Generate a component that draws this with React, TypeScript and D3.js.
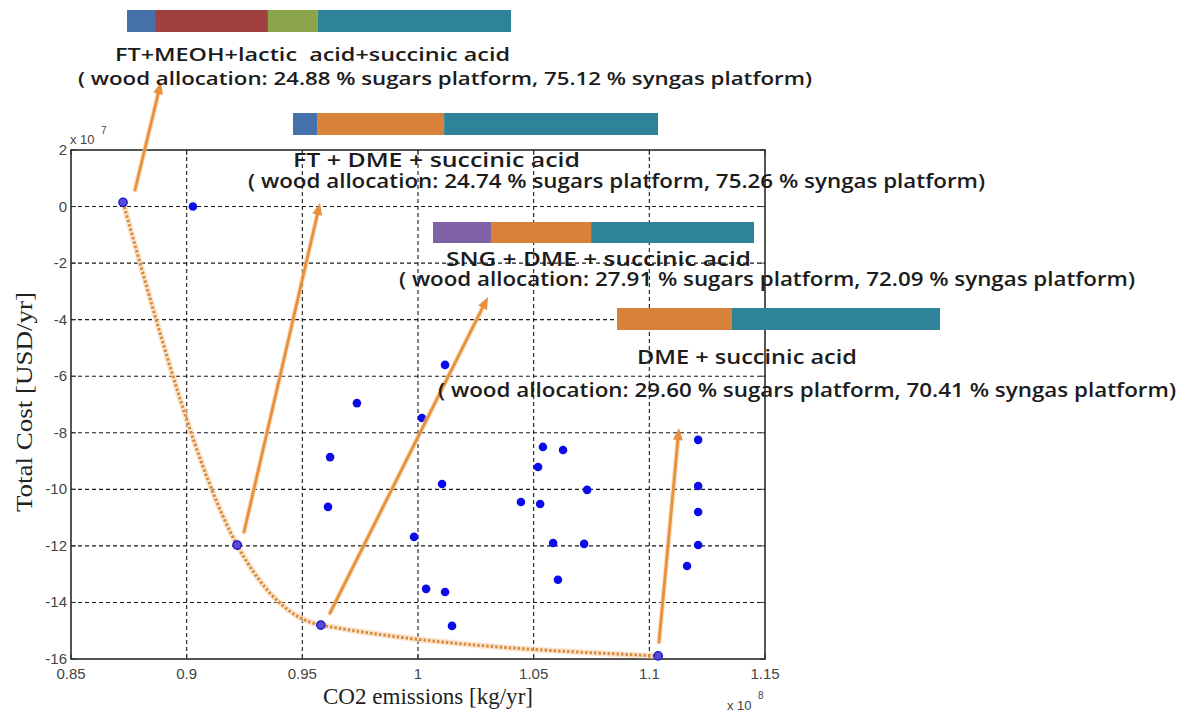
import React from "react";
import * as d3 from "d3";

// ---------- data ----------
const xTickValues = [0.85, 0.9, 0.95, 1.0, 1.05, 1.1, 1.15];
const xTickLabels = ["0.85", "0.9", "0.95", "1", "1.05", "1.1", "1.15"];
const yTickValues = [2, 0, -2, -4, -6, -8, -10, -12, -14, -16];
const yTickLabels = ["2", "0", "-2", "-4", "-6", "-8", "-10", "-12", "-14", "-16"];

// Pareto-optimal configurations (x: CO2 emissions x1e8 kg/yr, y: total cost x1e7 USD/yr)
const paretoCO2 = [0.8725, 0.9218, 0.958, 1.1038];
const paretoCost = [0.15, -11.97, -14.8, -15.89];

// other evaluated configurations
const otherCO2 = [
  0.9027, 0.9736, 0.962, 0.9611, 1.0117, 1.0017, 1.054, 1.0627, 1.0519, 1.0104,
  1.0731, 1.0445, 1.0528, 0.9983, 1.0584, 1.0718, 1.0605, 1.0035, 1.0117, 1.0147,
  1.1211, 1.1211, 1.1211, 1.1211, 1.1163,
];
const otherCost = [
  0.0, -6.95, -8.86, -10.62, -5.6, -7.48, -8.5, -8.61, -9.21, -9.81,
  -10.02, -10.45, -10.52, -11.68, -11.9, -11.93, -13.2, -13.52, -13.63, -14.83,
  -8.25, -9.88, -10.8, -11.97, -12.71,
];

const labelTitles = [
  "FT+MEOH+lactic  acid+succinic acid",
  "FT + DME + succinic acid",
  "SNG + DME + succinic acid",
  "DME + succinic acid",
];
const labelDetails = [
  "( wood allocation: 24.88 % sugars platform, 75.12 % syngas platform)",
  "( wood allocation: 24.74 % sugars platform, 75.26 % syngas platform)",
  "( wood allocation: 27.91 % sugars platform, 72.09 % syngas platform)",
  "( wood allocation: 29.60 % sugars platform, 70.41 % syngas platform)",
];
const barShares = [
  [7.3, 29.4, 13.0, 50.3],
  [6.6, 34.8, 58.6],
  [18.1, 31.2, 50.8],
  [35.6, 64.4],
];
const C_BLUE = "#4571aa";
const C_RED = "#a0403f";
const C_GREEN = "#8ba54b";
const C_TEAL = "#2f8399";
const C_ORANGE = "#d7813a";
const C_PURPLE = "#7f62a6";
const barColors = [
  [C_BLUE, C_RED, C_GREEN, C_TEAL],
  [C_BLUE, C_ORANGE, C_TEAL],
  [C_PURPLE, C_ORANGE, C_TEAL],
  [C_ORANGE, C_TEAL],
];

// ---------- layout ----------
const W = 1189;
const H = 713;
const PL = 71, PR = 765, PT = 150, PB = 659;

const labelLayout = [
  { bx0: 127, bx1: 511, by0: 10, by1: 32, t1x0: 115, t1x1: 510, t1y: 61, t2x0: 78, t2x1: 812, t2y: 85, fs: 18 },
  { bx0: 293, bx1: 658, by0: 113, by1: 135, t1x0: 293, t1x1: 580, t1y: 167, t2x0: 248, t2x1: 985, t2y: 188, fs: 19 },
  { bx0: 433, bx1: 754, by0: 222, by1: 243, t1x0: 446, t1x1: 751, t1y: 266, t2x0: 399, t2x1: 1135, t2y: 286, fs: 19 },
  { bx0: 617, bx1: 940, by0: 308, by1: 330, t1x0: 637, t1x1: 857, t1y: 364, t2x0: 438, t2x1: 1176, t2y: 397, fs: 19 },
];

const arrows = [
  { x0: 135, y0: 190, x1: 161, y1: 82 },
  { x0: 244, y0: 532, x1: 320, y1: 203 },
  { x0: 330, y0: 613, x1: 488, y1: 297 },
  { x0: 659, y0: 642, x1: 679, y1: 428 },
];

const ARROW = "#e8913c";

function Arrow({ a }: { a: { x0: number; y0: number; x1: number; y1: number } }) {
  const ang = Math.atan2(a.y1 - a.y0, a.x1 - a.x0);
  const len = 12, half = 5;
  const bx = a.x1 - len * Math.cos(ang);
  const by = a.y1 - len * Math.sin(ang);
  const px = -Math.sin(ang), py = Math.cos(ang);
  const head = `M${a.x1},${a.y1} L${bx + px * half},${by + py * half} L${bx - px * half},${by - py * half} Z`;
  return (
    <g>
      <line x1={a.x0} y1={a.y0} x2={bx} y2={by} stroke="#f6c99a" strokeWidth={5} strokeLinecap="round" opacity={0.6} />
      <line x1={a.x0} y1={a.y0} x2={bx} y2={by} stroke={ARROW} strokeWidth={2.8} strokeLinecap="round" />
      <path d={head} fill={ARROW} />
    </g>
  );
}

export default function App() {
  const x = d3.scaleLinear().domain([0.85, 1.15]).range([PL, PR]);
  const y = d3.scaleLinear().domain([2, -16]).range([PT, PB]);

  const paretoPts: [number, number][] = paretoCO2.map((v, i) => [x(v), y(paretoCost[i])]);
  const curve = d3.line().curve(d3.curveMonotoneX)(paretoPts) || "";

  const tickFont = "'Liberation Sans', Arial, sans-serif";
  const labelFont = "'Open Sans', 'DejaVu Sans', sans-serif";
  const serif = "'Liberation Serif', 'Times New Roman', serif";

  return (
    <svg width={W} height={H} style={{ position: "absolute", left: 0, top: 0, background: "#fff" }}>
      <rect x={0} y={0} width={W} height={H} fill="#fff" />

      {/* grid */}
      <g stroke="#1a1a1a" strokeWidth={1.1} strokeDasharray="4,3">
        {xTickValues.slice(1, -1).map((v) => (
          <line key={"gx" + v} x1={x(v)} x2={x(v)} y1={PT} y2={PB} />
        ))}
        {yTickValues.slice(1, -1).map((v) => (
          <line key={"gy" + v} x1={PL} x2={PR} y1={y(v)} y2={y(v)} />
        ))}
      </g>

      {/* ticks */}
      <g stroke="#333" strokeWidth={1}>
        {xTickValues.map((v) => (
          <g key={"tx" + v}>
            <line x1={x(v)} x2={x(v)} y1={PB} y2={PB - 5} />
            <line x1={x(v)} x2={x(v)} y1={PT} y2={PT + 5} />
          </g>
        ))}
        {yTickValues.map((v) => (
          <g key={"ty" + v}>
            <line x1={PL} x2={PL + 5} y1={y(v)} y2={y(v)} />
            <line x1={PR} x2={PR - 5} y1={y(v)} y2={y(v)} />
          </g>
        ))}
      </g>

      {/* frame */}
      <rect x={PL} y={PT} width={PR - PL} height={PB - PT} fill="none" stroke="#2a2a2a" strokeWidth={1.6} />

      {/* tick labels */}
      <g fontFamily={tickFont} fontSize={15} fill="#444">
        {xTickValues.map((v, i) => (
          <text key={"lx" + v} x={x(v)} y={679} textAnchor="middle">
            {xTickLabels[i]}
          </text>
        ))}
        {yTickValues.map((v, i) => (
          <text key={"ly" + v} x={67} y={y(v) + 5} textAnchor="end">
            {yTickLabels[i]}
          </text>
        ))}
      </g>
      <g fontFamily={tickFont} fill="#444">
        <text x={70} y={144} fontSize={13}>x 10</text>
        <text x={101} y={134} fontSize={10}>7</text>
        <text x={727} y={710} fontSize={13}>x 10</text>
        <text x={758} y={699} fontSize={10}>8</text>
      </g>

      {/* axis titles */}
      <text x={323} y={704} fontFamily={serif} fontSize={24} fill="#222" textLength={210} lengthAdjust="spacingAndGlyphs">
        CO2 emissions [kg/yr]
      </text>
      <text
        transform="translate(32,402) rotate(-90)"
        textAnchor="middle"
        fontFamily={serif}
        fontSize={24}
        fill="#222"
        textLength={220}
        lengthAdjust="spacingAndGlyphs"
      >
        Total Cost [USD/yr]
      </text>

      {/* pareto front curve */}
      <path d={curve} fill="none" stroke="#f7d3ad" strokeWidth={6} opacity={0.6} />
      <path d={curve} fill="none" stroke="#d98a3c" strokeWidth={3} strokeDasharray="2.5,2" />

      {/* points */}
      <g>
        {otherCO2.map((v, i) => (
          <circle key={"o" + i} cx={x(v)} cy={y(otherCost[i])} r={4.3} fill="#0c0ce8" />
        ))}
        {paretoCO2.map((v, i) => (
          <circle key={"p" + i} cx={x(v)} cy={y(paretoCost[i])} r={4.2} fill="#5b48d6" stroke="#1414d0" strokeWidth={1.3} />
        ))}
      </g>

      {/* arrows */}
      {arrows.map((a, i) => (
        <Arrow key={"a" + i} a={a} />
      ))}

      {/* labels with allocation bars */}
      {labelLayout.map((L, i) => {
        const shares = barShares[i];
        const cum = [0, ...Array.from(d3.cumsum(shares))];
        const bs = d3.scaleLinear().domain([0, cum[cum.length - 1]]).range([L.bx0, L.bx1]);
        return (
          <g key={"lab" + i}>
            {shares.map((s, j) => (
              <rect
                key={j}
                x={bs(cum[j])}
                y={L.by0}
                width={bs(cum[j + 1]) - bs(cum[j])}
                height={L.by1 - L.by0}
                fill={barColors[i][j]}
              />
            ))}
            <text
              x={L.t1x0}
              y={L.t1y}
              fontFamily={labelFont}
              fontWeight={600}
              fontSize={L.fs}
              fill="#1c1c1c"
              textLength={L.t1x1 - L.t1x0}
              lengthAdjust="spacingAndGlyphs"
              style={{ whiteSpace: "pre" }}
            >
              {labelTitles[i]}
            </text>
            <text
              x={L.t2x0}
              y={L.t2y}
              fontFamily={labelFont}
              fontWeight={600}
              fontSize={L.fs}
              fill="#1c1c1c"
              textLength={L.t2x1 - L.t2x0}
              lengthAdjust="spacingAndGlyphs"
            >
              {labelDetails[i]}
            </text>
          </g>
        );
      })}
    </svg>
  );
}
